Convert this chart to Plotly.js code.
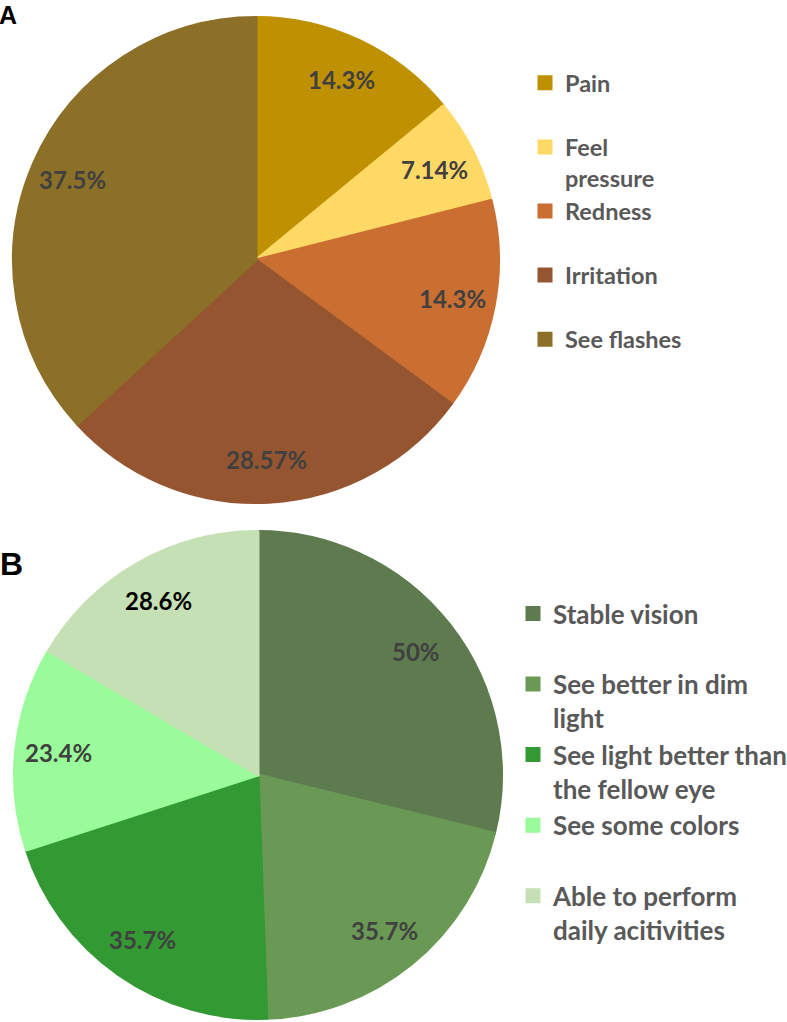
<!DOCTYPE html>
<html><head><meta charset="utf-8">
<script src="https://cdn.plot.ly/plotly-3.0.1.min.js"></script>
<style>html,body{margin:0;padding:0;background:#fff}#chart{width:787px;height:1022px}</style>
</head><body><div id="chart"></div>
<script>
// ---- data ----
const panelLetters = ['A', 'B'];
const labelsA = ['Pain', 'Feel<br>pressure', 'Redness', 'Irritation', 'See flashes'];
const valuesA = [14.3, 7.14, 14.3, 28.57, 37.5];
const labelsB = ['Stable vision', 'See better in dim<br>light', 'See light better than<br>the fellow eye', 'See some colors', 'Able to perform<br>daily acitivities'];
const valuesB = [50, 35.7, 35.7, 23.4, 28.6];

// ---- styles ----
const colorsA = ['#BF9000', '#FFD966', '#CA6F31', '#955530', '#8C7027'];
const colorsB = ['#5E7B4F', '#6A9955', '#339933', '#99FB99', '#C5E0B4'];
const textColorsA = ['#404040', '#404040', '#404040', '#404040', '#404040'];
const textColorsB = ['#404040', '#404040', '#404040', '#404040', '#000000'];

const W = 787, H = 1022;
const pieA = {cx: 256, cy: 260, r: 244};
const pieB = {cx: 258, cy: 775, r: 245};
const LABEL_R = 0.82;
const FONT = 'Lato, "Open Sans", sans-serif';

function twoLine(s) { return s.indexOf('<br>') >= 0 ? s : s + '<br>\u00a0'; }
function domainOf(p) {
  const rr = p.r - 1.5;
  return {x: [(p.cx - rr) / W, (p.cx + rr) / W], y: [1 - (p.cy + rr) / H, 1 - (p.cy - rr) / H]};
}
function pieTrace(labels, values, colors, p, legendId) {
  return {
    type: 'pie', labels: labels.map(twoLine), values: values, sort: false,
    direction: 'clockwise', rotation: 0, textinfo: 'none',
    marker: {colors: colors, line: {color: colors, width: 3}},
    domain: domainOf(p), legend: legendId, hoverinfo: 'label+value'
  };
}
function labelAnnotations(values, tcolors, p) {
  const total = values.reduce((a, b) => a + b, 0);
  let cum = 0;
  return values.map((v, i) => {
    const mid = (cum + v / 2) / total * 2 * Math.PI;
    cum += v;
    const px = p.cx + LABEL_R * p.r * Math.sin(mid);
    const py = p.cy - LABEL_R * p.r * Math.cos(mid);
    return {xref: 'paper', yref: 'paper', x: px / W, y: 1 - py / H, text: String(v) + '%',
      showarrow: false, xanchor: 'center', yanchor: 'middle',
      font: {family: FONT, size: 24, color: tcolors[i], weight: 700}};
  });
}

const data = [
  pieTrace(labelsA, valuesA, colorsA, pieA, 'legend'),
  pieTrace(labelsB, valuesB, colorsB, pieB, 'legend2')
];

const annotations = [
  {xref: 'paper', yref: 'paper', x: 0, y: 1, xanchor: 'left', yanchor: 'top', xshift: -2, borderpad: 0,
   text: panelLetters[0], showarrow: false, font: {family: 'Liberation Sans, Arial, sans-serif', size: 25, color: '#000', weight: 700}},
  {xref: 'paper', yref: 'paper', x: 0, y: 1 - 564 / H, xanchor: 'left', yanchor: 'middle', xshift: -2,
   text: panelLetters[1], showarrow: false, font: {family: 'Liberation Sans, Arial, sans-serif', size: 32, color: '#000', weight: 700}}
].concat(labelAnnotations(valuesA, textColorsA, pieA), labelAnnotations(valuesB, textColorsB, pieB));

const layout = {
  width: W, height: H,
  margin: {l: 0, r: 0, t: 0, b: 0, autoexpand: false},
  paper_bgcolor: '#ffffff', plot_bgcolor: '#ffffff',
  showlegend: true,
  legend: {x: 525 / W, xanchor: 'left', y: 1 - 61 / H, yanchor: 'top', valign: 'top',
    bgcolor: 'rgba(0,0,0,0)', font: {family: FONT, size: 23.5, color: '#595959', weight: 700}},
  legend2: {x: 513 / W, xanchor: 'left', y: 1 - 590 / H, yanchor: 'top', valign: 'top',
    bgcolor: 'rgba(0,0,0,0)', font: {family: FONT, size: 26, color: '#595959', weight: 700}},
  annotations: annotations
};

Plotly.newPlot('chart', data, layout, {displayModeBar: false, staticPlot: true});
</script>
</body></html>
